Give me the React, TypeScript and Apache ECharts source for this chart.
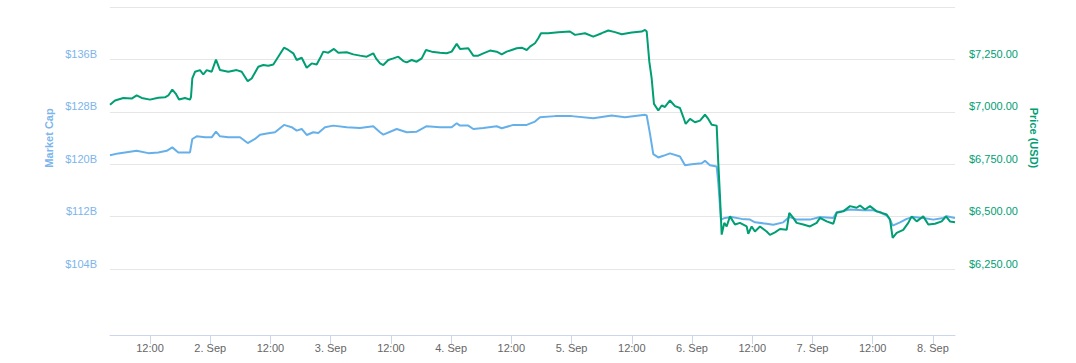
import React, { useEffect, useRef } from "react";
import * as echarts from "echarts";

// Hours since 1 Sep 2018 00:00
const xMinHour = 4.03;
const xMaxHour = 172.4;
const tickHours = [12, 24, 36, 48, 60, 72, 84, 96, 108, 120, 132, 144, 156, 168];

const priceHours = [
  4.03, 5.03, 6.68, 8.35, 9.35, 10.35, 12.0, 13.65, 14.99, 15.65, 16.44, 17.12, 17.78, 18.97, 19.97,
  20.17, 20.43, 20.97, 21.96, 22.62, 23.3, 24.29, 25.15, 25.95, 27.6, 29.27, 30.27, 31.47, 32.26,
  33.58, 34.57, 35.57, 36.57, 37.56, 38.7, 39.56, 40.55, 41.23, 42.23, 43.22, 44.22, 45.21, 45.87,
  46.53, 47.53, 48.66, 49.52, 51.19, 52.51, 53.84, 55.18, 56.49, 57.03, 57.83, 58.49, 59.48, 60.48,
  61.47, 62.47, 63.15, 64.14, 65.14, 66.14, 66.99, 68.13, 69.78, 71.12, 72.11, 73.11, 73.77, 75.42,
  76.42, 77.41, 78.41, 79.75, 81.08, 82.08, 83.07, 84.07, 85.07, 86.06, 87.06, 87.72, 88.71, 89.37,
  89.91, 91.36, 93.35, 95.68, 96.68, 98.67, 100.33, 102.0, 103.32, 104.65, 105.99, 107.98, 109.97,
  110.63, 110.97, 111.49, 111.96, 112.42, 113.28, 113.96, 114.61, 115.61, 116.61, 117.6, 118.26,
  118.74, 119.6, 120.59, 121.59, 122.58, 123.24, 123.92, 124.91, 125.23, 125.57, 125.91, 126.43,
  126.9, 127.56, 128.56, 129.55, 130.89, 131.21, 131.89, 132.54, 133.54, 134.87, 135.53, 136.53,
  137.52, 138.86, 139.38, 140.17, 140.85, 142.17, 143.5, 144.84, 145.5, 146.83, 148.15, 148.82,
  150.14, 151.48, 152.81, 153.47, 154.47, 155.46, 156.8, 157.79, 158.79, 159.45, 159.98, 160.78,
  162.09, 163.09, 163.77, 164.76, 166.08, 167.08, 168.41, 169.75, 170.61, 171.4, 172.4,
];
const priceValues = [
  7034, 7054, 7066, 7063, 7078, 7066, 7058, 7067, 7069, 7078, 7106, 7087, 7059, 7066, 7058,
  7071, 7159, 7191, 7199, 7178, 7199, 7191, 7249, 7199, 7191, 7199, 7191, 7146, 7159,
  7215, 7223, 7220, 7226, 7263, 7306, 7295, 7279, 7247, 7258, 7210, 7231, 7226, 7255,
  7287, 7282, 7300, 7282, 7284, 7274, 7268, 7263, 7279, 7255, 7231, 7223, 7247, 7255,
  7263, 7242, 7236, 7247, 7239, 7255, 7295, 7287, 7282, 7279, 7287, 7324, 7300, 7303,
  7268, 7268, 7279, 7292, 7287, 7274, 7287, 7295, 7303, 7306, 7295, 7311, 7327, 7351,
  7375, 7375, 7380, 7383, 7367, 7375, 7359, 7375, 7388, 7380, 7370, 7378, 7383,
  7391, 7383, 7239, 7159, 7038, 7006, 7030, 7023, 7054, 7027, 7018, 6975,
  6942, 6966, 6950, 6958, 6986, 6966, 6938, 6934, 6758, 6598, 6414, 6470,
  6453, 6501, 6462, 6470, 6453, 6418, 6453, 6429, 6453, 6429, 6413, 6425,
  6441, 6437, 6518, 6494, 6470, 6462, 6453, 6470, 6494, 6477, 6466, 6518,
  6525, 6550, 6542, 6553, 6534, 6550, 6525, 6518, 6510, 6486, 6398, 6422,
  6437, 6470, 6501, 6477, 6501, 6462, 6466, 6477, 6501, 6477, 6473,
];

const capHours = [
  4.03, 5.68, 7.02, 9.35, 11.66, 13.65, 15.33, 16.44, 17.64, 18.97, 19.97, 20.43, 21.31, 22.96,
  24.29, 25.15, 25.95, 27.6, 29.93, 31.47, 32.92, 33.92, 35.57, 36.91, 38.7, 40.23, 41.23, 42.23,
  43.22, 44.54, 45.53, 46.87, 48.52, 51.19, 53.84, 56.49, 57.83, 58.49, 61.16, 63.15, 65.14, 67.13,
  69.78, 72.11, 73.11, 73.77, 75.42, 76.42, 78.41, 81.08, 82.08, 84.39, 87.06, 88.71, 89.71, 92.7,
  96.02, 100.33, 103.99, 106.64, 110.63, 110.97, 111.63, 112.28, 113.28, 114.27, 115.61, 117.6,
  118.6, 119.93, 121.92, 122.58, 123.58, 124.91, 125.23, 125.77, 126.56, 127.9, 129.89, 131.55,
  132.54, 134.87, 136.19, 138.18, 139.38, 140.85, 143.5, 145.5, 148.15, 148.82, 151.48, 154.13,
  156.12, 157.45, 158.79, 159.45, 159.98, 161.44, 162.77, 164.09, 166.08, 168.08, 170.07, 170.75,
  172.4,
];
const capValues = [
  121.38, 121.65, 121.8, 122.05, 121.69, 121.8, 122.05, 122.57, 121.8, 121.8, 121.8, 123.85, 124.26,
  124.11, 124.11, 124.97, 124.26, 124.11, 124.11, 123.23, 123.85, 124.51, 124.72, 124.88, 126.0,
  125.65, 125.12, 125.38, 124.46, 124.88, 124.77, 125.65, 125.89, 125.65, 125.54, 125.8, 124.88,
  124.51, 125.38, 124.88, 124.97, 125.8, 125.65, 125.65, 126.26, 125.89, 125.89, 125.38, 125.54,
  125.8, 125.49, 126.0, 126.0, 126.51, 127.18, 127.34, 127.34, 127.03, 127.43, 127.18, 127.54,
  127.43, 124.62, 121.54, 121.03, 121.28, 121.65, 121.18, 119.85, 120.0, 120.15, 120.51, 119.85,
  119.65, 117.18, 111.54, 111.8, 111.95, 111.65, 111.54, 111.12, 110.92, 110.77, 111.12, 111.95,
  111.54, 111.54, 111.95, 111.8, 112.66, 113.08, 112.97, 112.97, 112.66, 112.15, 111.54, 110.62,
  111.12, 111.65, 111.95, 111.8, 111.54, 111.8, 112.05, 111.8,
];

const capTicks = { min: 104, max: 144, interval: 8 };
const priceTicks = { min: 6250, max: 7500, interval: 250 };

const BLUE = "#7cb5ec";
const BLUE_LINE = "#66b0ea";
const GREEN = "#009e73";
const FONT = "'Liberation Sans', Arial, sans-serif";

function fmtX(v: number): string {
  if (v % 24 === 0) return `${v / 24 + 1}. Sep`;
  return "12:00";
}

export default function App() {
  const ref = useRef<HTMLDivElement>(null);
  useEffect(() => {
    document.body.style.margin = "0";
    if (!ref.current) return;
    const chart = echarts.init(ref.current, undefined, { renderer: "svg" });
    chart.setOption({
      animation: false,
      backgroundColor: "#ffffff",
      textStyle: { fontFamily: FONT },
      grid: { left: 110, right: 121, top: 7, bottom: 94, containLabel: false },
      xAxis: {
        type: "value",
        min: xMinHour,
        max: xMaxHour,
        offset: 66,
        axisLine: { show: true, lineStyle: { color: "#ccd6eb", width: 1 } },
        axisTick: { show: true, length: 9, customValues: tickHours, lineStyle: { color: "#ccd6eb" } },
        axisLabel: {
          customValues: tickHours,
          formatter: fmtX,
          color: "#666666",
          fontSize: 11,
          fontFamily: FONT,
          margin: 7,
        },
        splitLine: { show: false },
      },
      yAxis: [
        {
          type: "value",
          position: "left",
          min: capTicks.min,
          max: capTicks.max,
          interval: capTicks.interval,
          axisLine: { show: false },
          axisTick: { show: false },
          splitLine: { show: true, lineStyle: { color: "#e6e6e6", width: 1 } },
          axisLabel: {
            formatter: (v: number) => `$${v}B`,
            color: BLUE,
            fontSize: 11,
            fontFamily: FONT,
            showMaxLabel: false,
            verticalAlign: "bottom",
            margin: 13,
          },
          name: "Market Cap",
          nameLocation: "middle",
          nameGap: 52,
          nameTextStyle: { color: BLUE, fontWeight: "bold", fontSize: 11, fontFamily: FONT },
        },
        {
          type: "value",
          position: "right",
          min: priceTicks.min,
          max: priceTicks.max,
          interval: priceTicks.interval,
          axisLine: { show: false },
          axisTick: { show: false },
          splitLine: { show: false },
          axisLabel: {
            formatter: (v: number) =>
              "$" + v.toLocaleString("en-US", { minimumFractionDigits: 2, maximumFractionDigits: 2 }),
            color: GREEN,
            fontSize: 11,
            fontFamily: FONT,
            showMaxLabel: false,
            verticalAlign: "bottom",
            margin: 14,
          },
          name: "Price (USD)",
          nameLocation: "middle",
          nameRotate: -90,
          nameGap: 73,
          nameTextStyle: { color: GREEN, fontWeight: "bold", fontSize: 11, fontFamily: FONT },
        },
      ],
      series: [
        {
          name: "Market Cap",
          type: "line",
          yAxisIndex: 0,
          showSymbol: false,
          data: capHours.map((h, i) => [h, capValues[i]]),
          lineStyle: { color: BLUE_LINE, width: 2 },
          itemStyle: { color: BLUE_LINE },
        },
        {
          name: "Price (USD)",
          type: "line",
          yAxisIndex: 1,
          showSymbol: false,
          data: priceHours.map((h, i) => [h, priceValues[i]]),
          lineStyle: { color: GREEN, width: 2 },
          itemStyle: { color: GREEN },
        },
      ],
    });
    return () => chart.dispose();
  }, []);
  return <div ref={ref} style={{ width: 1076, height: 363 }} />;
}
